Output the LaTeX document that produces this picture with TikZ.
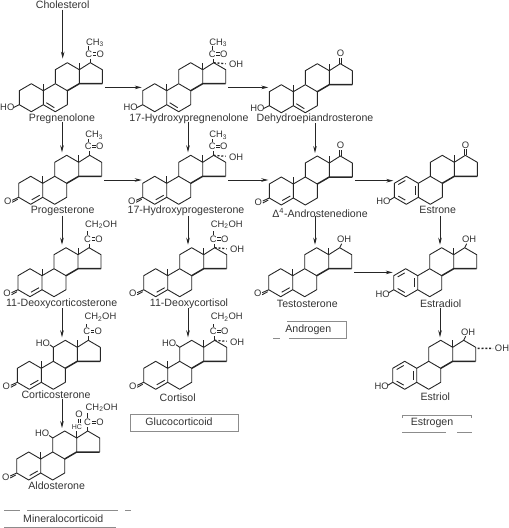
\documentclass[tikz,border=0pt]{standalone}
\usepackage{fontspec}
\setmainfont{Liberation Sans}
\usetikzlibrary{arrows.meta}
\newcommand{\labelfont}{\fontsize{10.6}{12}\selectfont}
\newcommand{\atomfont}{\fontsize{9.4}{11}\selectfont}
\tikzset{
    bond/.style={line width=0.9pt, black!85, line join=round},
    heavybond/.style={line width=1.5pt, black!85, line join=round},
    hashbond/.style={line width=1.3pt, black!85, dash pattern=on 2pt off 1.8pt},
    atom/.style={font=\atomfont, inner sep=0pt, text=black!80},
    compound/.style={font=\labelfont, inner sep=0pt, text=black!80},
    pathway/.style={line width=0.8pt, black!85, -{Stealth[length=7pt,width=3.6pt]}},
    frameline/.style={line width=0.6pt, black!45},
    % rings B, C, D and the outline of ring A
    skeleton/.pic={
        \coordinate (C10) at (0,0);
        \coordinate (in) at (19,-31);
        \coordinate (out) at (61.5,-3.3);
        \coordinate (entry) at (-25,-3);
        \draw[bond] (-24,0) -- (-12,-7) -- (0,0) -- (0,14) -- (-12,21) -- (-24,14) -- cycle;
        \draw[bond] (0,0) -- (12,-7) -- (24,0) -- (24,14) -- (12,21) -- (0,14);
        \draw[bond] (12,-7) -- (12,-21) -- (24,-28) -- (36,-21) -- (36,-7);
        \draw[bond] (36,-21) -- (47,-28) -- (59,-21) -- (59,-7);
        \draw[heavybond] (24,0) -- (36,-7) -- (59,-7);
    },
    methyl/.pic={
        \draw[bond] (36,-21) -- (36,-28);
    },
    % ring A variants
    hoene/.pic={
        \draw[bond] (0,0) -- (0,-7);
        \draw[bond] (3,12) -- (11,17);
        \draw[bond] (-24,14) -- (-30,17);
        \node[atom] (ho) at (-36,16.7) {HO};
    },
    ketoene/.pic={
        \draw[bond] (0,0) -- (0,-7);
        \draw[bond] (-3,12) -- (-11,16.5);
        \draw[bond] (-24,14) -- (-30.5,17);
        \draw[bond] (-25,16) -- (-30.5,19);
        \node[atom] (oxo) at (-35,18) {O};
    },
    phenol/.pic={
        \draw[bond] (-20,1.2) -- (-13,-2.8);
        \draw[bond] (-3,2.5) -- (-3,11.5);
        \draw[bond] (-13,16.8) -- (-20,12.8);
        \draw[bond] (-24,14) -- (-29,17);
        \node[atom] (ho) at (-35,18.4) {HO};
    },
    % side chains on ring D
    carbonyl/.pic={
        \draw[bond] (47,-28) -- (47,-32);
        \node[atom] (cc) at (45.5,-36.7) {C};
        \node[atom] (co) at (57,-36.7) {O};
        \draw[bond] (49.5,-38) -- (53,-38);
        \draw[bond] (49.5,-35.5) -- (53,-35.5);
        \draw[bond] (45.5,-41) -- (45.5,-44.5);
    },
    acetyl/.pic={
        \pic {carbonyl};
        \node[atom, anchor=west] (me) at (42.5,-48) {CH\textsubscript{3}};
    },
    ketol/.pic={
        \pic {carbonyl};
        \node[atom, anchor=west] (me) at (43,-51) {CH\textsubscript{2}OH};
    },
    oxoD/.pic={
        \draw[bond] (46.2,-28) -- (46.2,-34);
        \draw[bond] (48.2,-28) -- (48.2,-34);
        \node[atom] (oxo) at (47.3,-38.4) {O};
    },
    hydroxyA/.pic={
        \draw[hashbond] (47,-28) -- (59,-27);
        \node[atom] (oh) at (69.5,-26.5) {OH};
    },
    hydroxyB/.pic={
        \draw[bond] (47,-28) -- (49,-32);
        \node[atom] (oh) at (51.5,-36.4) {OH};
    },
    hydroxyC/.pic={
        \draw[bond] (12,-21) -- (8.5,-23.5);
        \node[atom] (ho) at (1.5,-25.5) {HO};
    },
}
\begin{document}
\begin{tikzpicture}[x=1pt,y=-1pt]
    \useasboundingbox (0,0) rectangle (509,528);

    % Columns of the vertical arrows
    \coordinate (colA) at (62,0);
    \coordinate (colB) at (188,0);
    \coordinate (colC) at (315,0);
    \coordinate (colD) at (440,0);

    % First row
    \node[compound] (cholesterol) at (62.7,4.5) {Cholesterol};
    \pic (preg-) at (43.3,90.7) {skeleton};
    \pic (pregA-) at (43.3,90.7) {hoene};
    \pic (pregM-) at (43.3,90.7) {methyl};
    \pic (pregD-) at (43.3,90.7) {acetyl};
    \node[compound] (pregnenolone) at (62,118.5) {Pregnenolone};

    \pic (ohpreg-) at (166.7,90.7) {skeleton};
    \pic (ohpregA-) at (166.7,90.7) {hoene};
    \pic (ohpregM-) at (166.7,90.7) {methyl};
    \pic (ohpregD-) at (166.7,90.7) {acetyl};
    \pic (ohpregO-) at (166.7,90.7) {hydroxyA};
    \node[compound] (hydroxypregnenolone) at (189,118.5) {17-Hydroxypregnenolone};

    \pic (dhea-) at (293.3,91.7) {skeleton};
    \pic (dheaA-) at (293.3,91.7) {hoene};
    \pic (dheaM-) at (293.3,91.7) {methyl};
    \pic (dheaD-) at (293.3,91.7) {oxoD};
    \node[compound] (dehydroepi) at (315,118.3) {Dehydroepiandrosterone};

    % Second row
    \pic (prog-) at (42.7,183.3) {skeleton};
    \pic (progA-) at (42.7,183.3) {ketoene};
    \pic (progM-) at (42.7,183.3) {methyl};
    \pic (progD-) at (42.7,183.3) {acetyl};
    \node[compound] (progesterone) at (62.7,210.8) {Progesterone};

    \pic (ohprog-) at (166.7,183.3) {skeleton};
    \pic (ohprogA-) at (166.7,183.3) {ketoene};
    \pic (ohprogM-) at (166.7,183.3) {methyl};
    \pic (ohprogD-) at (166.7,183.3) {acetyl};
    \pic (ohprogO-) at (166.7,183.3) {hydroxyA};
    \node[compound] (hydroxyprogesterone) at (186,210.8) {17-Hydroxyprogesterone};

    \pic (andro-) at (293.3,184) {skeleton};
    \pic (androA-) at (293.3,184) {ketoene};
    \pic (androM-) at (293.3,184) {methyl};
    \pic (androD-) at (293.3,184) {oxoD};
    \node[compound] (androstenedione) at (320,212.7) {Δ\textsuperscript{4}-Androstenedione};

    \pic (estrone-) at (418.3,183.3) {skeleton};
    \pic (estroneA-) at (418.3,183.3) {phenol};
    \pic (estroneM-) at (418.3,183.3) {methyl};
    \pic (estroneD-) at (418.3,183.3) {oxoD};
    \node[compound] (estronelabel) at (437.7,210) {Estrone};

    % Third row
    \pic (doc-) at (42,275.7) {skeleton};
    \pic (docA-) at (42,275.7) {ketoene};
    \pic (docM-) at (42,275.7) {methyl};
    \pic (docD-) at (42,275.7) {ketol};
    \node[compound] (deoxycorticosterone) at (61.7,304) {11-Deoxycorticosterone};

    \pic (dcort-) at (167.7,275.7) {skeleton};
    \pic (dcortA-) at (167.7,275.7) {ketoene};
    \pic (dcortM-) at (167.7,275.7) {methyl};
    \pic (dcortD-) at (167.7,275.7) {ketol};
    \pic (dcortO-) at (167.7,275.7) {hydroxyA};
    \node[compound] (deoxycortisol) at (189,304) {11-Deoxycortisol};

    \pic (testo-) at (292.7,275.7) {skeleton};
    \pic (testoA-) at (292.7,275.7) {ketoene};
    \pic (testoM-) at (292.7,275.7) {methyl};
    \pic (testoD-) at (292.7,275.7) {hydroxyB};
    \node[compound] (testosterone) at (307.3,304) {Testosterone};

    \pic (estradiol-) at (417.7,275.7) {skeleton};
    \pic (estradiolA-) at (417.7,275.7) {phenol};
    \pic (estradiolM-) at (417.7,275.7) {methyl};
    \pic (estradiolD-) at (417.7,275.7) {hydroxyB};
    \node[compound] (estradiollabel) at (440.7,304) {Estradiol};

    % Fourth row
    \pic (cortico-) at (41.3,368.3) {skeleton};
    \pic (corticoA-) at (41.3,368.3) {ketoene};
    \pic (corticoM-) at (41.3,368.3) {methyl};
    \pic (corticoD-) at (41.3,368.3) {ketol};
    \pic (corticoC-) at (41.3,368.3) {hydroxyC};
    \node[compound] (corticosterone) at (56,394.7) {Corticosterone};

    \pic (cortisol-) at (167.7,368.3) {skeleton};
    \pic (cortisolA-) at (167.7,368.3) {ketoene};
    \pic (cortisolM-) at (167.7,368.3) {methyl};
    \pic (cortisolD-) at (167.7,368.3) {ketol};
    \pic (cortisolO-) at (167.7,368.3) {hydroxyA};
    \pic (cortisolC-) at (167.7,368.3) {hydroxyC};
    \node[compound] (cortisollabel) at (177.7,397.3) {Cortisol};

    \pic (estriol-) at (416.7,368.3) {skeleton};
    \pic (estriolA-) at (416.7,368.3) {phenol};
    \pic (estriolM-) at (416.7,368.3) {methyl};
    \pic (estriolD-) at (416.7,368.3) {hydroxyB};
    \draw[hashbond, line width=1.5pt] (477.7,348.3) -- (493,348.5);
    \node[atom] (estriolhydroxy) at (502,348.7) {OH};
    \node[compound] (estriollabel) at (435.3,396.7) {Estriol};

    % Fifth row, with the aldehyde on C13
    \pic (aldo-) at (40.7,459) {skeleton};
    \pic (aldoA-) at (40.7,459) {ketoene};
    \pic (aldoC-) at (40.7,459) {hydroxyC};
    \draw[bond] (76.7,438) -- (76.7,431);
    \node[font=\fontsize{7}{8}\selectfont, inner sep=0pt, text=black!80] (aldohc) at (77,426.7) {HC};
    \draw[bond] (78,423) -- (78,418.5);
    \draw[bond] (80,423) -- (80,418.5);
    \node[atom] (aldooxo) at (79,414) {O};
    \draw[bond] (87.7,431) -- (87.7,427);
    \node[atom] (aldoc) at (87.5,422.3) {C};
    \node[atom] (aldoo) at (100,422.3) {O};
    \draw[bond] (91.5,421) -- (96,421);
    \draw[bond] (91.5,423.5) -- (96,423.5);
    \draw[bond] (87.5,417.5) -- (87.5,413);
    \node[atom, anchor=west] (aldochain) at (85.5,407.5) {CH\textsubscript{2}OH};
    \node[compound] (aldosterone) at (56.7,486) {Aldosterone};

    % Class labels and their frames
    \node[compound] (gluco) at (179,421.7) {Glucocorticoid};
    \draw[frameline] (130,414.3) rectangle (238.3,431.3);
    \node[compound] (mineralo) at (63.3,518.7) {Mineralocorticoid};
    \draw[frameline] (4,510) -- (20,510);
    \draw[frameline] (27,510) -- (118,510);
    \draw[frameline] (125,510) -- (131,510);
    \draw[frameline, line width=1pt] (4,527) -- (116,527);
    \node[compound] (androgen) at (308.3,330) {Androgen};
    \draw[frameline] (287,321.7) -- (346.7,321.7) -- (346.7,338.3) -- (289,338.3);
    \draw[frameline] (273,338.3) -- (280,338.3);
    \node[compound] (estrogen) at (432,422.7) {Estrogen};
    \draw[frameline] (402.3,418) -- (402.3,415) -- (471.7,415) -- (471.7,418);
    \draw[frameline] (402.3,432) -- (446,432);
    \draw[frameline] (457,432.5) -- (472,432.5);

    % Vertical arrows
    \draw[pathway] (cholesterol.south -| colA) ++(0.7,1) -- ++(0,49);
    \draw[pathway] (pregnenolone.center -| colA) ++(0,3) -- (colA |- prog-in);
    \draw[pathway] (hydroxypregnenolone.center -| colB) ++(0,3) -- (colB |- ohprog-in);
    \draw[pathway] (dehydroepi.center -| colC) ++(0,5) -- (colC |- andro-in);
    \draw[pathway] (progesterone.center -| colA) ++(0,5) -- (colA |- doc-in);
    \draw[pathway] (hydroxyprogesterone.center -| colB) ++(0,5) -- (colB |- dcort-in);
    \draw[pathway] (androstenedione.center -| colC) ++(0,3) -- (colC |- testo-in);
    \draw[pathway] (estronelabel.south -| colD) ++(0,2) -- (colD |- estradiol-in);
    \draw[pathway] (deoxycorticosterone.center -| colA) ++(0,4) -- (colA |- cortico-in);
    \draw[pathway] (deoxycortisol.center -| colB) ++(0,4) -- (colB |- cortisol-in);
    \draw[pathway] (estradiollabel.center -| colD) ++(0,4) -- (colD |- estriol-in);
    \draw[pathway] (corticosterone.center -| colA) ++(0,4) -- (colA |- aldo-in);

    % Horizontal arrows
    \draw[pathway] (preg-out) -- (preg-out -| ohpreg-entry);
    \draw[pathway] (ohpreg-out) -- (ohpreg-out -| dhea-entry);
    \draw[pathway] (prog-out) -- (prog-out -| ohprog-entry);
    \draw[pathway] (ohprog-out) -- (ohprog-out -| andro-entry);
    \draw[pathway] (andro-out) -- (andro-out -| estrone-entry);
    \draw[pathway] (testo-out) -- (testo-out -| estradiol-entry);
\end{tikzpicture}
\end{document}
